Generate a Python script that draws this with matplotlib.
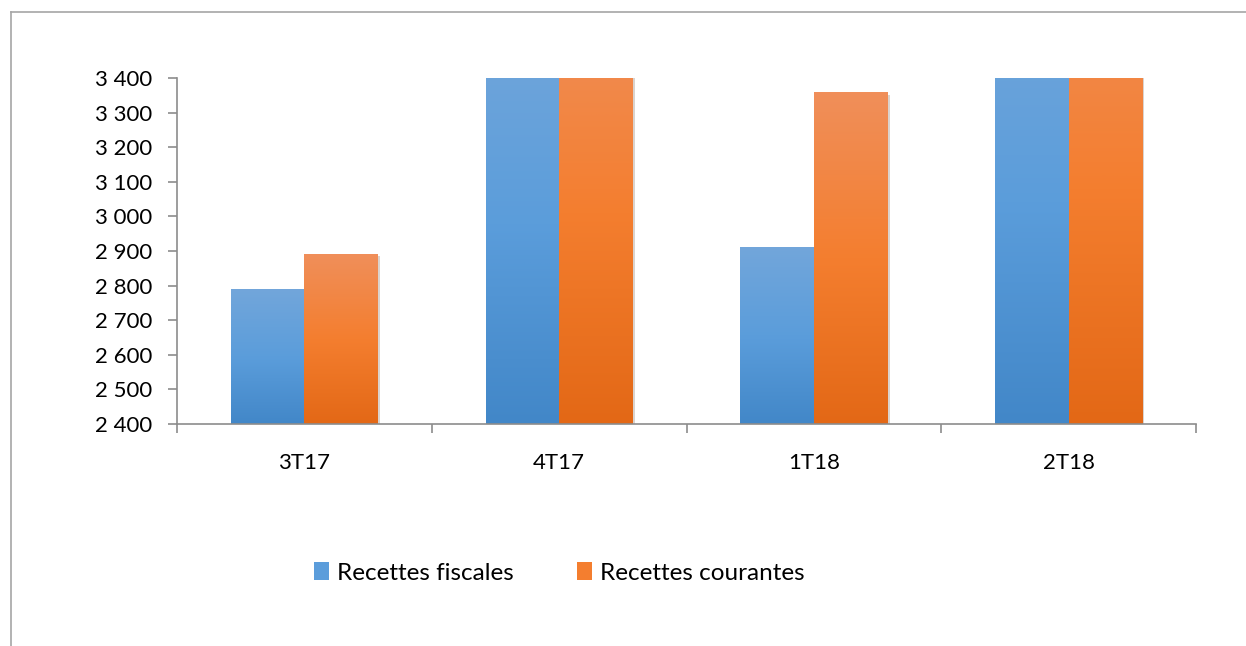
import numpy as np
import matplotlib
matplotlib.use("Agg")
import matplotlib.pyplot as plt
from matplotlib.colors import LinearSegmentedColormap
from matplotlib.lines import Line2D
from matplotlib.patches import Patch
import matplotlib.patheffects as pe

plt.rcParams['font.family'] = ['Lato', 'DejaVu Sans']

categories = ['3T17', '4T17', '1T18', '2T18']
recettes_fiscales = [2790, 3560, 2909, 3680]
recettes_courantes = [2891, 3620, 3357, 3760]
series_names = ['Recettes fiscales', 'Recettes courantes']
y_ticks = [2400, 2500, 2600, 2700, 2800, 2900, 3000, 3100, 3200, 3300, 3400]

blue_grad = ['#4287c8', '#5b9ddb', '#72a6da']
orange_grad = ['#e36816', '#f47e2f', '#f08f5a']


def fmt(v):
    return f"{v:,}".replace(",", " ")


fig = plt.figure(figsize=(12.46, 6.46), dpi=100)
ax = fig.add_axes([0.142, 0.3437, 0.818, 0.5356])

# outer chart frame (left and top only visible)
fig.add_artist(Line2D([11 / 1246, 11 / 1246], [0, 1 - 12 / 646], color='#a6a6a6', lw=1.2))
fig.add_artist(Line2D([11 / 1246, 1], [1 - 12 / 646, 1 - 12 / 646], color='#a6a6a6', lw=1.2))

x = np.arange(len(categories))
w = 0.2885
base, top = y_ticks[0], y_ticks[-1]
ax.set_xlim(-0.5, len(categories) - 0.5)
ax.set_ylim(base, top)

for vals, grad, off in [(recettes_fiscales, blue_grad, -w / 2), (recettes_courantes, orange_grad, w / 2)]:
    cmap = LinearSegmentedColormap.from_list('g', grad)
    heights = [v - base for v in vals]
    bars = ax.bar(x + off, heights, w, bottom=base, color=grad[1], lw=0, zorder=2,
                  path_effects=[pe.SimplePatchShadow(offset=(1.5, -1.5), alpha=0.2), pe.Normal()])
    for b in bars:
        h = b.get_height()
        vis = min(h, top - base)
        g = np.linspace(0, vis / h, 256).reshape(-1, 1)
        ax.imshow(g, cmap=cmap, vmin=0, vmax=1, origin='lower', aspect='auto', zorder=3,
                  extent=[b.get_x(), b.get_x() + b.get_width(), base, base + vis])

ax.set_xlim(-0.5, len(categories) - 0.5)
ax.set_ylim(base, top)

for s in ['top', 'right']:
    ax.spines[s].set_visible(False)
for s in ['left', 'bottom']:
    ax.spines[s].set_color('#8c8c8c')
    ax.spines[s].set_linewidth(1.2)
    ax.spines[s].set_zorder(4)

ax.set_yticks(y_ticks)
ax.set_yticklabels([fmt(v) for v in y_ticks])
ax.tick_params(axis='y', length=6.5, width=1.2, color='#8c8c8c', pad=11, labelsize=16)

ax.set_xticks(x)
ax.set_xticklabels(categories)
ax.set_xticks(np.arange(len(categories) + 1) - 0.5, minor=True)
ax.tick_params(axis='x', which='major', length=0, pad=21, labelsize=16)
ax.tick_params(axis='x', which='minor', length=6.5, width=1.2, color='#8c8c8c')

handles = [Patch(facecolor=blue_grad[1]), Patch(facecolor=orange_grad[1])]
fig.legend(handles, series_names, loc='center', bbox_to_anchor=(0.449, 0.113), ncol=2,
           frameon=False, fontsize=17.5, handlelength=0.6, handleheight=0.75,
           handletextpad=0.35, columnspacing=2.6)

fig.savefig('out.png', dpi=100)
